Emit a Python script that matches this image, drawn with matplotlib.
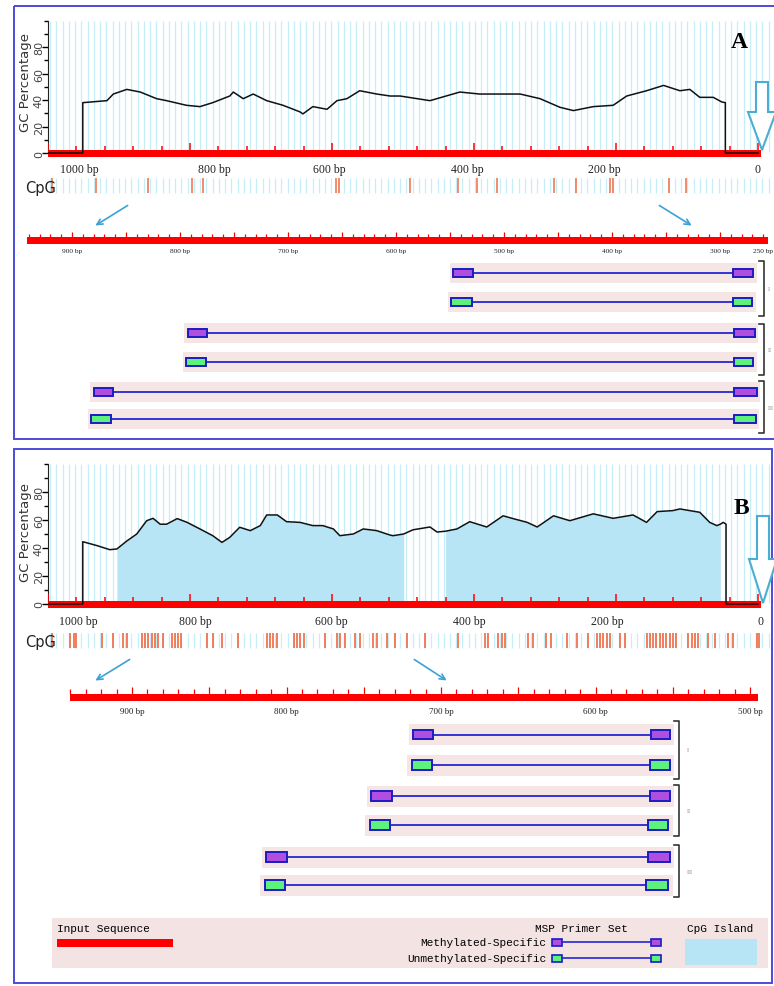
import matplotlib
matplotlib.use('Agg')
import matplotlib.pyplot as plt
from matplotlib.patches import Rectangle, Polygon
import numpy as np

W, H = 774, 987

# ---- GC profile, panel A (bp position, GC %) ----
gc_a_bp = [1000, 951, 951, 917, 908, 889, 870, 847, 833, 805, 786, 768, 744, 739, 725,
           711, 692, 669, 645, 641, 627, 607, 593, 579, 561, 537, 518, 504, 462, 420,
           392, 335, 307, 279, 260, 232, 204, 185, 157, 133, 110, 96, 82, 63, 51, 46, 46, 0]
gc_a = [0, 0, 38, 39.5, 44.5, 48, 46, 41, 39.5, 36, 35, 38, 43, 46, 41,
        44.5, 39.5, 36, 31, 29.5, 35, 33, 39.5, 41, 47, 44.5, 43, 43, 39.5, 46,
        44.5, 44.5, 41, 34.5, 32, 35, 36, 43, 47, 51, 47, 48, 42, 42, 38.5, 38, 0, 0]

# ---- GC profile, panel B ----
gc_b_bp = [1000, 951, 951, 931, 913, 903, 889, 875, 861, 852, 842, 833, 818, 804, 786,
           768, 755, 744, 730, 715, 701, 692, 677, 664, 645, 627, 613, 598, 589, 570,
           556, 537, 518, 514, 499, 486, 462, 452, 440, 424, 406, 382, 359, 345, 325,
           311, 288, 265, 232, 204, 176, 157, 142, 120, 110, 82, 68, 58, 53, 49, 45, 45, 0]
gc_b = [0, 0, 44.5, 41.7, 38.8, 39.3, 45, 50, 59.5, 61.2, 57, 57, 61, 58.3, 53.6,
        48.8, 44, 47.6, 54.8, 52.4, 56, 63.6, 63.6, 58.8, 58.3, 56, 56, 53.6, 48.8, 50,
        53.6, 52.4, 49.2, 48.8, 50, 53, 55, 51.4, 52, 53.6, 58.8, 55, 63, 61, 58.3,
        55, 63, 59.5, 64.4, 61.2, 63.6, 58.3, 66, 66.7, 67.9, 65.5, 58.3, 56, 57, 58.3, 57, 0, 0]

# CpG islands in B (from, to) bp
islands_b = [(903, 499), (440, 53)]

# CpG site positions (bp)
cpg_a = [994, 932, 859, 797, 782, 594, 590, 490, 423, 396, 368, 287, 256, 208, 204, 125, 101]
cpg_b = [995, 969, 964, 960, 924, 908, 894, 889, 868, 863, 859, 854, 849, 845, 838,
         826, 821, 817, 812, 776, 767, 755, 732, 692, 687, 683, 678, 654, 650, 645, 640,
         610, 593, 589, 582, 568, 561, 542, 537, 523, 511, 495, 469, 422, 385, 380,
         366, 361, 356, 324, 317, 298, 291, 269, 255, 239, 227, 223, 218, 213, 208,
         194, 187, 157, 152, 148, 143, 138, 134, 129, 124, 120, 115, 98, 93, 89, 84,
         70, 61, 42, 35, 2, -2]

# axis labels
gc_lab_a_pos = [956, 766, 604, 410, 217, 1]
gc_lab_b_pos = [957, 792, 601, 407, 212, -3]
gc_lab_text = ['1000 bp', '800 bp', '600 bp', '400 bp', '200 bp', '0']
ruler_a_lab = [900, 800, 700, 600, 500, 400, 300, 250]
ruler_b_lab = [900, 800, 700, 600, 500]

# MSP primer sets: (fwd outer, fwd inner, rev inner, rev outer) in bp
sets = ['I', 'II', 'III']
a_meth = [(547, 529, 288, 269), (793, 775, 287, 268), (880, 862, 287, 266)]
a_unme = [(549, 530, 288, 270), (794, 776, 287, 269), (882, 864, 287, 267)]
b_meth = [(718, 705, 564, 552), (745, 732, 565, 552), (813, 800, 566, 552)]
b_unme = [(719, 706, 565, 552), (746, 733, 566, 553), (814, 801, 567, 553)]

RED = '#ff0000'
STRIPE = '#c6eef8'
PINK = '#f5e5e5'
PURPLE = '#b04ee0'
GREEN = '#5df27c'
BOXEDGE = '#1c1cc0'
PLINE = '#2626d2'
ISLAND = '#b7e5f6'
FRAME = '#4b4bd8'
ARROW = '#3aa2d6'
SERIF = ['Liberation Serif', 'DejaVu Serif']
MONO = ['Liberation Mono', 'DejaVu Sans Mono']

fig = plt.figure(figsize=(W / 100, H / 100), dpi=100)


def px_axes(x0, y0, x1, y1):
    ax = fig.add_axes([x0 / W, 1 - y1 / H, (x1 - x0) / W, (y1 - y0) / H])
    ax.patch.set_alpha(0)
    return ax


def bp_top(x):
    # top tracks: 1000 bp at px 48, 0.71 px per bp
    return 1000 - (x - 48) / 0.71


def gc_panel(bp, gc, zero, scale, lab_pos, lab_y, islands=None):
    top = zero - 100 * scale
    y0, y1 = top - 2, zero + 7
    ax = px_axes(48, y0, 772, y1)
    ax.set_xlim(1000, bp_top(772))
    ax.set_ylim(-(y1 - zero) / scale, (zero - y0) / scale)
    ax.vlines(np.arange(997, bp_top(770), -8.8), 0.5, 100, color=STRIPE, lw=0.9, zorder=0)
    bp = np.array(bp)
    gc = np.array(gc)
    if islands:
        for a, b in islands:
            ax.fill_between(bp, 0, gc, where=(bp <= a) & (bp >= b), color=ISLAND, lw=0, zorder=1)
    ax.fill_between([1000, bp_top(761)], -3, 2, color=RED, lw=0, zorder=3)
    t = np.arange(1000, -1, -40)
    ax.vlines(t, 2, np.where(t % 200 == 0, 7.5, 5), color=RED, lw=1.1, zorder=3)
    ax.plot(bp, gc, color='#111111', lw=1.1, zorder=4)
    for s in ['top', 'right', 'bottom']:
        ax.spines[s].set_visible(False)
    ax.spines['left'].set_bounds(0, 100)
    ax.spines['left'].set_color('#222222')
    ax.set_xticks([])
    ax.set_yticks([0, 20, 40, 60, 80])
    ax.set_yticks([10, 30, 50, 70, 90, 100], minor=True)
    ax.tick_params(axis='y', which='major', length=4, width=1, labelsize=8,
                   labelcolor='#444444', pad=-1, labelrotation=90)
    ax.tick_params(axis='y', which='minor', length=3, width=1)
    for lab in ax.get_yticklabels():
        lab.set_va('center')
    for p, s in zip(lab_pos, gc_lab_text):
        ax.text(p, -(lab_y - zero) / scale, s, ha='center', va='center', fontsize=8.5,
                family=SERIF, color='#222222', clip_on=False)
    return ax


def cpg_track(y0, y1, sites, color):
    ax = px_axes(48, y0, 772, y1)
    ax.set_xlim(1000, bp_top(772))
    ax.set_ylim(0, 1)
    ax.vlines(np.arange(997, bp_top(770), -8.8), 0.05, 0.95, color=STRIPE, lw=0.9, zorder=0)
    ax.vlines(sites, 0.05, 0.95, color=color, lw=1.3, zorder=2)
    ax.axis('off')
    return ax


def primer_panel(y0, y1, bp_left, bp_right, bar, tick_top, lab, lab_y, lab_fs,
                 rows, meth, unme, box_h, half_band):
    ax = px_axes(15, y0, 774, y1)
    ax.set_xlim(bp_left, bp_right)
    ax.set_ylim(y1, y0)
    ax.axis('off')
    # ruler
    b0, b1, by0, by1 = bar
    ax.fill_between([b0, b1], by0, by1, color=RED, lw=0)
    t = np.arange(np.floor(b0 / 10) * 10, b1, -10)
    ax.vlines(t, by0, np.where(t % 50 == 0, tick_top - 2, tick_top), color=RED, lw=0.9)
    for k, p in enumerate(lab):
        last_cut = (k == len(lab) - 1) and p < bp_right + 5
        ax.text(bp_right + 1 if last_cut else p, lab_y, '%d bp' % p,
                ha='right' if last_cut else 'center', va='center', fontsize=lab_fs,
                family=SERIF, color='#222222')
    # primer rows
    for i in range(len(sets)):
        for j, (prm, fc) in enumerate([(meth[i], PURPLE), (unme[i], GREEN)]):
            y = rows[2 * i + j]
            fo, fi, ri, ro = prm
            ax.fill_between([fo + 3, ro - 3], y - half_band, y + half_band, color=PINK, lw=0)
            ax.plot([fi, ri], [y, y], color=PLINE, lw=1.3)
            for a, b in [(fo, fi), (ri, ro)]:
                ax.add_patch(Rectangle((b, y - box_h / 2), a - b, box_h, facecolor=fc,
                                       edgecolor=BOXEDGE, lw=1.4, zorder=3))
    return ax


# overlay in pixel coordinates (frames, arrows, legend)
ov = fig.add_axes([0, 0, 1, 1])
ov.set_xlim(0, W)
ov.set_ylim(H, 0)
ov.axis('off')
ov.patch.set_alpha(0)
ov.set_zorder(10)

# ---------------- Panel A ----------------
gc_panel(gc_a_bp, gc_a, 154, 1.325, gc_lab_a_pos, 170)
cpg_track(178, 195, cpg_a, '#f2825f')
primer_panel(225, 440, 900 + (72 - 15) / 1.08, 900 - (774 - 72) / 1.08,
             (941.7, 255.6, 238, 245), 234.5, ruler_a_lab, 252, 5.3,
             [274, 303, 334, 363, 393, 420], a_meth, a_unme, 8.5, 10)

# ---------------- Panel B ----------------
gc_panel(gc_b_bp, gc_b, 605, 1.4, gc_lab_b_pos, 622, islands_b)
cpg_track(633, 650, cpg_b, '#f07450')
primer_panel(680, 905, 900 + (132 - 15) / 1.545, 900 - (774 - 132) / 1.545,
             (940, 495, 695, 702), 690, ruler_b_lab, 712, 6.5,
             [735.5, 766, 797, 826, 858, 886], b_meth, b_unme, 9.5, 10.5)

# frames
ov.add_patch(Rectangle((14, 7), 770, 433, fill=False, ec=FRAME, lw=1.4))
ov.add_patch(Rectangle((14, 450), 758, 534, fill=False, ec=FRAME, lw=1.4))

# panel letters
ov.text(739, 43, 'A', fontsize=17, fontweight='bold', family=SERIF, ha='center', va='center')
ov.text(741, 508, 'B', fontsize=17, fontweight='bold', family=SERIF, ha='center', va='center')

# y labels and CpG labels
for yc in [83, 533]:
    ov.text(26, yc, 'GC Percentage', rotation=90, fontsize=9.5, color='#333333',
            ha='center', va='center')
for yc in [188, 642]:
    ov.text(25, yc, 'CpG', fontsize=10.5, color='#222222', ha='left', va='center')

# hollow down arrows
for top, head, tip, xc in [(83, 113, 151, 762), (517, 560, 604, 763)]:
    ov.add_patch(Polygon([(xc - 6, top), (xc + 6, top), (xc + 6, head), (xc + 14, head),
                          (xc, tip), (xc - 14, head), (xc - 6, head)], closed=True,
                         facecolor='white', edgecolor='#4aaed2', lw=1.5))

# zoom arrows
for (x0, y0), (x1, y1) in [((130, 205), (93, 228)), ((657, 205), (694, 228)),
                           ((132, 659), (93, 683)), ((412, 659), (449, 683))]:
    ov.annotate('', xy=(x1, y1), xytext=(x0, y0),
                arrowprops=dict(arrowstyle='->', color=ARROW, lw=1.2))

# brackets
for x, spans, lx in [(764, [(262, 317), (325, 376), (382, 434)], 767.5),
                     (679, [(722, 780), (786, 837), (846, 898)], 687)]:
    for k, (ya, yb) in enumerate(spans):
        ov.plot([x - 5, x, x, x - 5], [ya, ya, yb, yb], color='#333333', lw=1.2)
        ov.text(lx, (ya + yb) / 2, sets[k], fontsize=4.5, color='#888888', family=SERIF,
                ha='left', va='center')

# legend
ov.add_patch(Rectangle((52, 919), 716, 50, facecolor='#f3e3e3', edgecolor='none'))
ov.text(57, 929, 'Input Sequence', family=MONO, fontsize=8, ha='left', va='center')
ov.add_patch(Rectangle((57, 940), 116, 8, facecolor=RED, edgecolor='none'))
ov.text(628, 929, 'MSP Primer Set', family=MONO, fontsize=8, ha='right', va='center')
ov.text(546, 943, 'Methylated-Specific', family=MONO, fontsize=8, ha='right', va='center')
ov.text(546, 959, 'Unmethylated-Specific', family=MONO, fontsize=8, ha='right', va='center')
for yc, fc in [(943, PURPLE), (959, GREEN)]:
    ov.plot([562, 651], [yc, yc], color=PLINE, lw=1.2)
    for bx in [552, 651]:
        ov.add_patch(Rectangle((bx, yc - 3.5), 10, 7, facecolor=fc, edgecolor=BOXEDGE, lw=1.2))
ov.text(720, 929, 'CpG Island', family=MONO, fontsize=8, ha='center', va='center')
ov.add_patch(Rectangle((685, 940), 72, 26, facecolor=ISLAND, edgecolor='none'))

fig.savefig('out.png', dpi=100)
